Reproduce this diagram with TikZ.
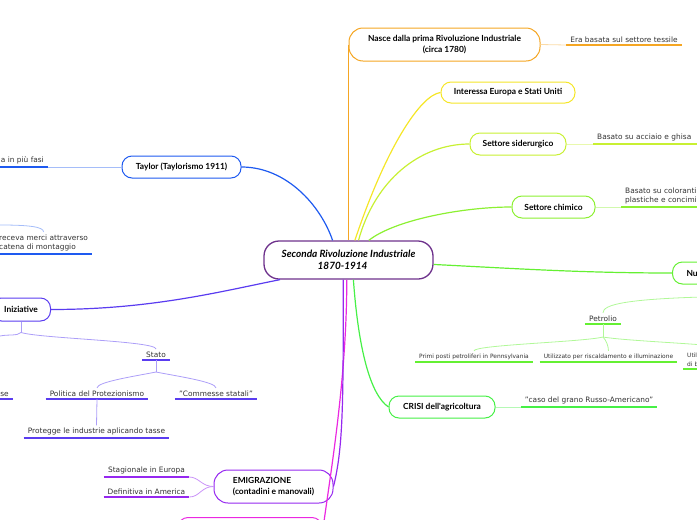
\documentclass[tikz,border=0pt]{standalone}
\usepackage{fontspec}
\setmainfont{DejaVu Sans}
\newfontfamily\topicfont{Lato}
\definecolor{cRoot}{RGB}{110,50,140}
\definecolor{cOrange}{RGB}{245,166,35}
\definecolor{cYellow}{RGB}{245,230,40}
\definecolor{cSider}{RGB}{200,240,50}
\definecolor{cChim}{RGB}{140,240,50}
\definecolor{cNuove}{RGB}{100,240,50}
\definecolor{cCrisi}{RGB}{70,240,70}
\definecolor{cTaylor}{RGB}{30,90,240}
\definecolor{cInizi}{RGB}{90,60,240}
\definecolor{cEmig}{RGB}{150,40,240}
\definecolor{cMagenta}{RGB}{235,40,225}
\begin{document}
\begin{tikzpicture}[
    x=1pt, y=-1pt,
    topic/.style={draw, fill=white, rounded corners=10pt, line width=1pt, align=center, inner sep=0pt,
        font=\topicfont\bfseries\fontsize{8.4}{11}\selectfont},
    leaf/.style={anchor=south, inner xsep=4pt, inner ysep=2.5pt, text=black!80,
        font=\fontsize{7.4}{9.5}\selectfont},
    leafsmall/.style={leaf, font=\fontsize{5.9}{8.5}\selectfont},
    link/.style={line width=1.2pt},
    twig/.style={line width=0.8pt},
    uline/.style={line width=1.6pt}
    ]
	\useasboundingbox (0,0) rectangle (697,520);
	\clip (0,0) rectangle (697,520);
	% main topic
	\node [topic, draw=cRoot, line width=1.3pt, rounded corners=15pt, minimum width=169pt, minimum height=38pt,
		align=left, font=\topicfont\bfseries\itshape\fontsize{10}{12.5}\selectfont] (root) at (348.5,260)
		{Seconda Rivoluzione Industriale\\\hspace*{3.6em}1870-1914};
	% right side
	\node [topic, draw=cOrange, rounded corners=14pt, minimum width=191pt, minimum height=33pt] (nasce) at (444.5,44.5)
		{Nasce dalla prima Rivoluzione Industriale\\(circa 1780)};
	\node [leaf] (tessile) at (624,45) {Era basata sul settore tessile};
	\node [topic, draw=cYellow, minimum width=134pt, minimum height=21pt] (europa) at (508,92.5) {Interessa Europa e Stati Uniti};
	\node [topic, draw=cSider, minimum width=96pt, minimum height=22pt] (sider) at (518,144) {Settore siderurgico};
	\node [leaf, anchor=south west, text width=110pt, align=left] (acciaio) at (593,144) {Basato su acciaio e ghisa};
	\node [topic, draw=cChim, minimum width=83pt, minimum height=22pt] (chim) at (553.5,207) {Settore chimico};
	\node [leaf, anchor=south west, text width=110pt, align=left] (coloranti) at (621,207) {Basato su coloranti\\plastiche e concimi};
	\node [topic, draw=cNuove, anchor=west, minimum width=100pt, minimum height=22pt, text width=72pt, align=left] (nuove) at (672,273) {Nu};
	\node [leaf] (petrolio) at (603,324) {Petrolio};
	\node [leafsmall] (primi) at (474,362) {Primi posti petroliferi in Pennsylvania};
	\node [leafsmall] (riscald) at (608.5,362) {Utilizzato per riscaldamento e illuminazione};
	\node [leafsmall, anchor=south west, text width=100pt, align=left] (util) at (683,369) {Util\\di b};
	\node [topic, draw=cCrisi, minimum width=106pt, minimum height=22pt] (crisi) at (442,407) {CRISI dell'agricoltura};
	\node [leaf] (grano) at (589,407) {"caso del grano Russo-Americano"};
	% left side
	\node [topic, draw=cTaylor, minimum width=119pt, minimum height=22pt] (taylor) at (181.5,167) {Taylor (Taylorismo 1911)};
	\node [leaf, anchor=south east] (fasi) at (48,167) {a in più fasi};
	\node [leaf, anchor=south west, align=left] (catena) at (-5,254) {receva merci attraverso\\catena di montaggio};
	\coordinate (catin) at (0,225);
	\node [topic, draw=cInizi, anchor=east, minimum width=59pt, minimum height=23pt] (iniz) at (51,309.5) {Iniziative};
	\coordinate (inizleft) at (0,336);
	\node [leaf, anchor=south east] (se) at (13,399) {se};
	\node [leaf] (stato) at (156,360) {Stato};
	\node [leaf] (protez) at (97,399) {Politica del Protezionismo};
	\node [leaf] (commesse) at (216,399) {"Commesse statali"};
	\node [leaf] (tasse) at (96.5,438) {Protegge le industrie aplicando tasse};
	\node [topic, draw=cEmig, rounded corners=14pt, minimum width=119pt, minimum height=33pt, align=left] (emig) at (273.5,486.5)
		{EMIGRAZIONE\\(contadini e manovali)};
	\node [leaf] (stagion) at (146.5,477) {Stagionale in Europa};
	\node [leaf] (america) at (146.5,497) {Definitiva in America};
	\node [topic, draw=cMagenta, anchor=north, minimum width=144pt, minimum height=30pt] (ultimo) at (250,517) {};
	% underlines
	\foreach \n/\c in {tessile/cOrange, acciaio/cSider, coloranti/cChim, petrolio/cNuove, primi/cNuove,
		riscald/cNuove, util/cNuove, grano/cCrisi, fasi/cTaylor, catena/cTaylor, se/cInizi, stato/cInizi,
		protez/cInizi, commesse/cInizi, tasse/cInizi, stagion/cEmig, america/cEmig}
		\draw [uline, \c] (\n.south west) -- (\n.south east);
	% branches
	\draw [link, cTaylor] (taylor.east) .. controls +(45,0) and +(-12,-35) .. (root.129);
	\draw [link, cOrange] (nasce.west) -- (nasce.west |- root.north);
	\draw [link, cYellow] (root.72) .. controls (385,150) and (420,95) .. (europa.west);
	\draw [link, cSider] (root.63) .. controls (375,180) and (420,144) .. (sider.west);
	\draw [link, cChim] (root.44) .. controls +(25,-20) and +(-50,0) .. (chim.west);
	\draw [link, cNuove] (root.-3) .. controls +(80,4) and +(-90,0) .. (nuove.west);
	\draw [link, cCrisi] (root.-76) .. controls +(5,70) and +(-18,-12) .. (crisi.west);
	\draw [link, cMagenta] (root.-95) .. controls +(0,100) and +(8,-60) .. (ultimo.east);
	\draw [link, cEmig] (root.-105) .. controls +(0,120) and +(10,-40) .. (emig.east);
	\draw [link, cInizi] (iniz.east) .. controls +(100,0) and +(-60,12) .. (root.196);
	% leaves
	\draw [twig, cOrange!40] (nasce.east) -- (tessile.south west);
	\draw [twig, cSider!40] (sider.east) -- (acciaio.south west);
	\draw [twig, cChim!40] (chim.east) -- (coloranti.south west);
	\draw [twig, cCrisi!40] (crisi.east) -- (grano.south west);
	\draw [twig, cTaylor!40] (fasi.south east) -- (taylor.west);
	\draw [twig, cTaylor!40] (catin) .. controls +(30,0) and +(0,-5) .. (catena.north);
	\draw [twig, cNuove!50] (nuove.south) -- ++(0,12) coordinate (nufork);
	\draw [twig, cNuove!50] (nufork) .. controls +(-100,2) and +(0,-8) .. (petrolio.north);
	\draw [twig, cNuove!50] (petrolio.south) -- ++(0,13) coordinate (petfork);
	\draw [twig, cNuove!50] (petfork) .. controls +(-20,5) and +(0,-6) .. (primi.north);
	\draw [twig, cNuove!50] (petfork) .. controls +(3,3) and +(0,-5) .. (riscald.north);
	\draw [twig, cNuove!50] (petfork) .. controls +(30,5) and +(0,-6) .. (util.north);
	\draw [twig, cInizi!50] (iniz.south) -- ++(0,11) coordinate (inizfork);
	\draw [twig, cInizi!50] (inizfork) .. controls +(-5,4) and +(10,-2) .. (inizleft);
	\draw [twig, cInizi!50] (inizfork) .. controls +(20,6) and +(0,-8) .. (stato.north);
	\draw [twig, cInizi!50] (stato.south) -- ++(0,12) coordinate (statofork);
	\draw [twig, cInizi!50] (statofork) .. controls +(-20,4) and +(0,-6) .. (protez.north);
	\draw [twig, cInizi!50] (statofork) .. controls +(20,4) and +(0,-6) .. (commesse.north);
	\draw [twig, cInizi!50] (protez.south) -- (tasse.north);
	\draw [twig, cEmig!50] (stagion.south east) .. controls +(10,0) and +(-12,0) .. (emig.west);
	\draw [twig, cEmig!50] (america.south east) .. controls +(10,0) and +(-12,0) .. (emig.west);
\end{tikzpicture}
\end{document}
